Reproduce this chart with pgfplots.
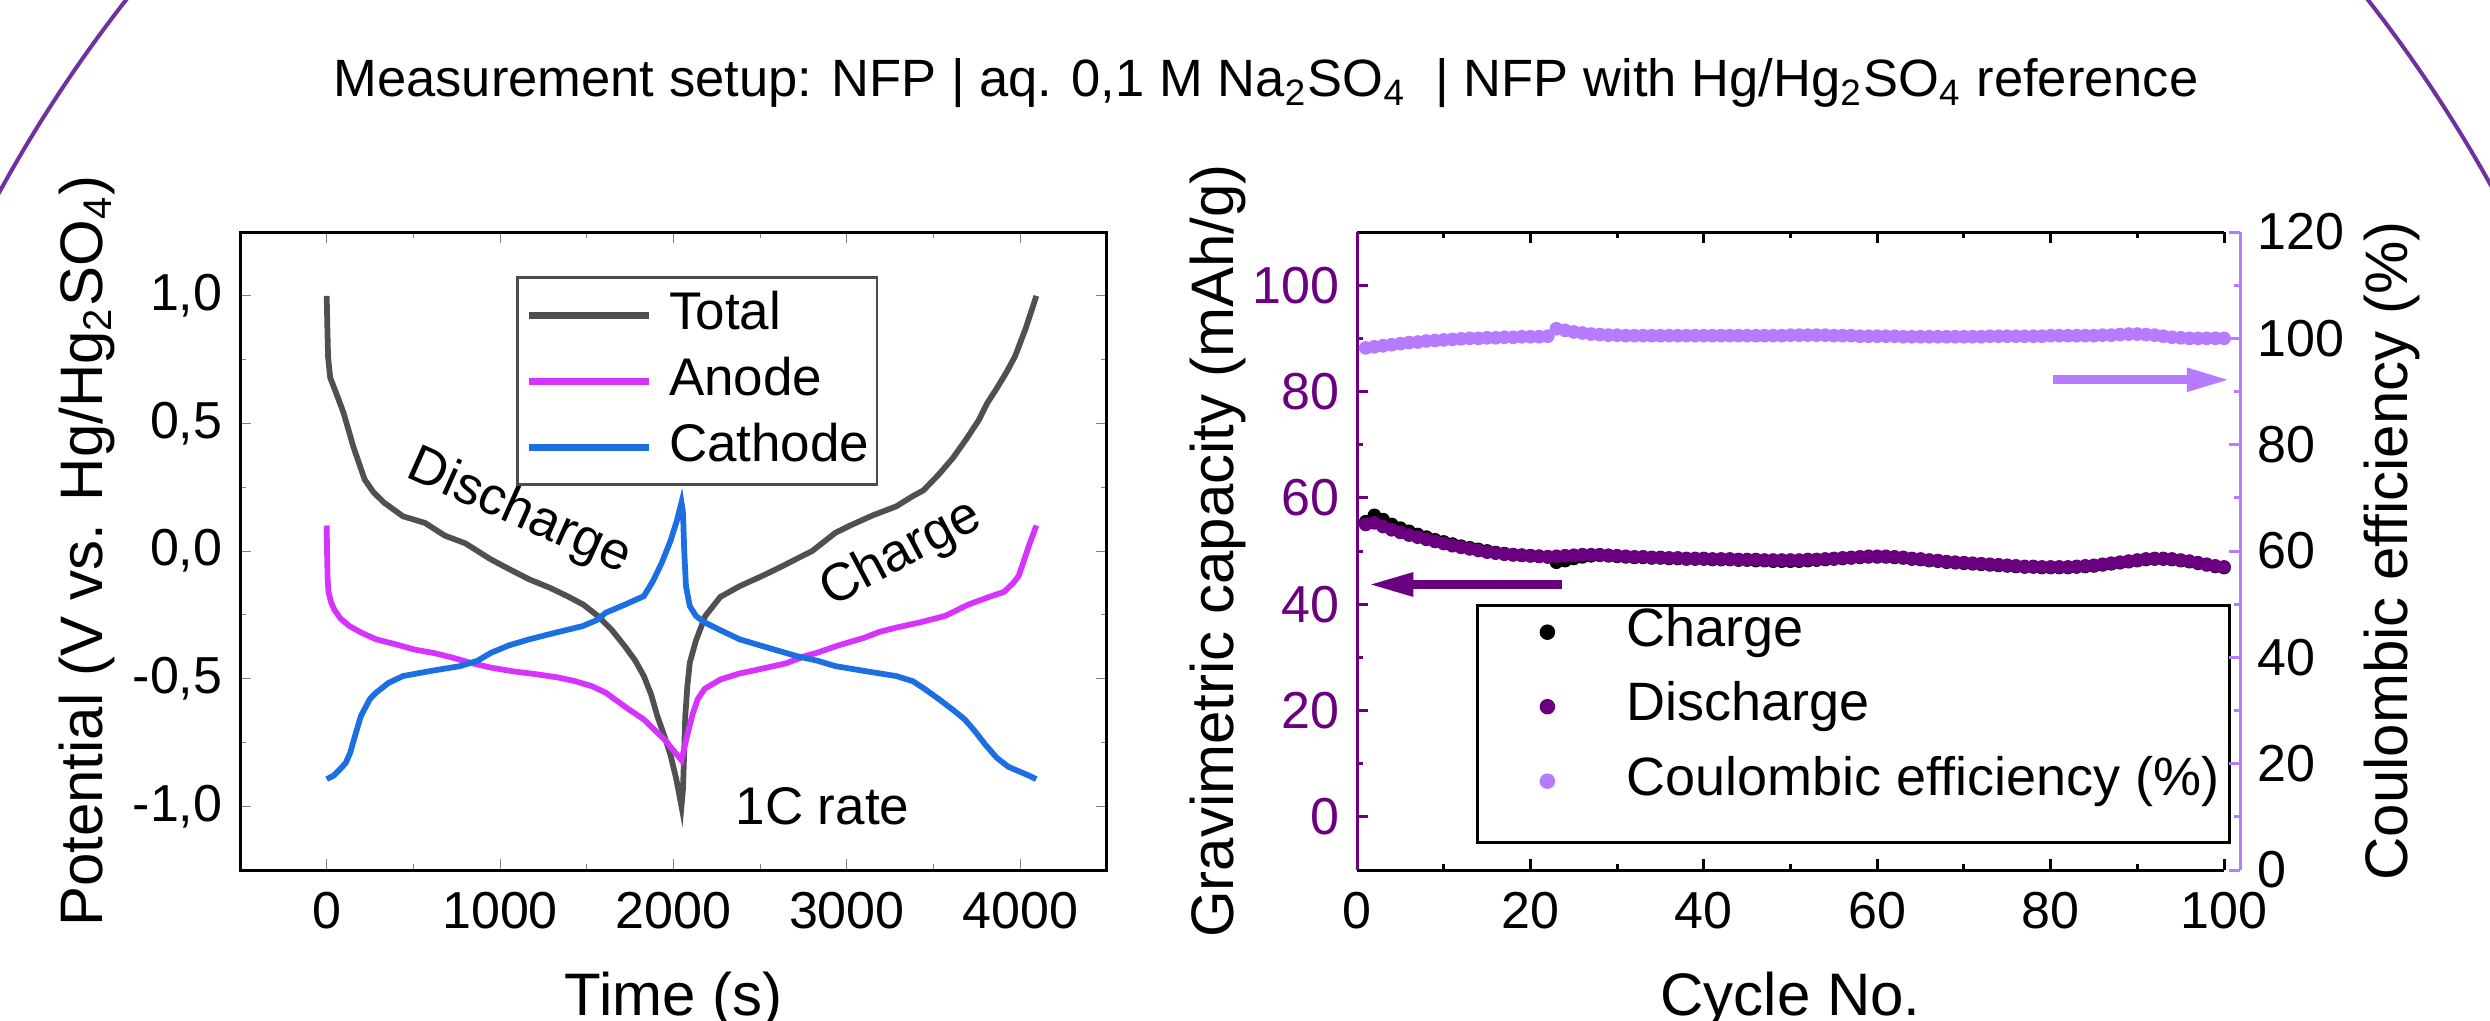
\documentclass[border=0pt]{standalone}
\usepackage{fontspec}
\setmainfont{Liberation Sans}
\usepackage{pgfplots}
\usepackage{pgfplotstable}
\pgfplotsset{compat=1.18}
\usetikzlibrary{arrows.meta}

\definecolor{totalgray}{HTML}{505050}
\definecolor{anodemag}{HTML}{D633FF}
\definecolor{cathblue}{HTML}{1B6FE0}
\definecolor{dpurple}{HTML}{6A007F}
\definecolor{lpurple}{HTML}{B77BFF}
\definecolor{arcpurple}{HTML}{7030A0}

% galvanostatic profile, time (s) vs potential (V)
\pgfplotstableread{
t v
0 1.00
3 0.90
8 0.76
20 0.68
54 0.62
98 0.54
153 0.41
219 0.28
270 0.23
330 0.19
440 0.136
567 0.11
682 0.06
800 0.03
947 -0.033
1050 -0.07
1168 -0.111
1290 -0.145
1388 -0.177
1480 -0.21
1565 -0.255
1645 -0.31
1719 -0.373
1780 -0.43
1829 -0.49
1870 -0.56
1907 -0.647
1950 -0.73
1983 -0.80
2015 -0.89
2035 -0.96
2046 -1.00
2055 -0.93
2061 -0.80
2068 -0.647
2080 -0.53
2094 -0.438
2130 -0.35
2183 -0.255
2270 -0.18
2381 -0.138
2520 -0.095
2638 -0.056
2712 -0.03
2800 0.00
2933 0.071
3019 0.10
3150 0.14
3285 0.175
3380 0.215
3442 0.238
3530 0.30
3611 0.364
3690 0.44
3759 0.511
3810 0.58
3864 0.637
3920 0.70
3970 0.763
4030 0.87
4093 1.00
}\totaldata

\pgfplotstableread{
t v
0 0.10
2 0.00
5 -0.10
10 -0.16
25 -0.20
43 -0.229
80 -0.265
131 -0.294
200 -0.32
285 -0.346
400 -0.366
506 -0.386
620 -0.40
727 -0.418
840 -0.44
947 -0.457
1080 -0.472
1212 -0.483
1330 -0.495
1433 -0.51
1530 -0.53
1609 -0.555
1680 -0.59
1741 -0.62
1829 -0.66
1950 -0.74
2046 -0.82
2060 -0.78
2080 -0.72
2110 -0.64
2140 -0.58
2180 -0.54
2271 -0.503
2380 -0.48
2491 -0.464
2650 -0.44
2765 -0.41
2822 -0.40
2950 -0.37
3100 -0.34
3187 -0.317
3285 -0.30
3420 -0.28
3568 -0.254
3700 -0.21
3820 -0.18
3907 -0.16
3960 -0.125
3991 -0.097
4030 -0.02
4054 0.029
4093 0.10
}\anodedata

\pgfplotstableread{
t v
0 -0.894
40 -0.88
81 -0.852
110 -0.83
136 -0.79
165 -0.72
197 -0.647
250 -0.579
285 -0.555
356 -0.517
440 -0.49
600 -0.47
770 -0.451
870 -0.43
947 -0.399
1050 -0.37
1168 -0.346
1320 -0.32
1477 -0.294
1560 -0.27
1609 -0.242
1720 -0.21
1829 -0.177
1880 -0.12
1930 -0.05
1983 0.04
2020 0.12
2046 0.19
2055 0.15
2062 0.00
2072 -0.138
2094 -0.216
2130 -0.255
2183 -0.281
2270 -0.31
2381 -0.346
2550 -0.38
2712 -0.412
2830 -0.43
2933 -0.451
3100 -0.47
3285 -0.49
3380 -0.51
3441 -0.537
3530 -0.58
3611 -0.622
3680 -0.66
3737 -0.705
3800 -0.76
3864 -0.81
3930 -0.845
3991 -0.863
4050 -0.88
4092 -0.894
}\cathodedata

% cycling: capacity (mAh/g) and coulombic efficiency (%)
\pgfplotstableread{
cyc D C E
1 55.0 55.5 98.2
2 55.3 56.7 98.4
3 54.6 55.9 98.6
4 54.0 55.0 98.8
5 53.5 54.3 99.0
6 53.0 53.7 99.2
7 52.6 53.1 99.3
8 52.2 52.6 99.5
9 51.8 52.1 99.6
10 51.4 51.7 99.7
11 51.0 51.3 99.8
12 50.7 50.9 99.9
13 50.4 50.6 100.0
14 50.1 50.3 100.0
15 49.8 50.0 100.1
16 49.6 49.7 100.1
17 49.4 49.5 100.2
18 49.3 49.3 100.2
19 49.2 49.2 100.3
20 49.1 49.1 100.3
21 49.0 49.0 100.3
22 48.9 48.9 100.4
23 49.0 47.9 101.8
24 49.1 48.2 101.5
25 49.2 48.6 101.2
26 49.3 48.9 101.0
27 49.3 49.1 100.8
28 49.3 49.2 100.7
29 49.2 49.1 100.6
30 49.1 49.0 100.6
31 49.0 48.9 100.5
32 48.9 48.8 100.5
33 48.9 48.8 100.5
34 48.8 48.7 100.5
35 48.8 48.7 100.5
36 48.7 48.6 100.5
37 48.7 48.6 100.5
38 48.6 48.5 100.5
39 48.6 48.5 100.5
40 48.6 48.5 100.5
41 48.5 48.4 100.5
42 48.5 48.4 100.5
43 48.5 48.4 100.5
44 48.4 48.3 100.5
45 48.4 48.3 100.5
46 48.4 48.2 100.5
47 48.3 48.2 100.5
48 48.3 48.1 100.5
49 48.3 48.1 100.5
50 48.3 48.1 100.6
51 48.3 48.1 100.6
52 48.4 48.2 100.6
53 48.4 48.3 100.6
54 48.5 48.4 100.6
55 48.6 48.5 100.5
56 48.7 48.6 100.5
57 48.8 48.7 100.5
58 48.9 48.8 100.4
59 49.0 48.9 100.4
60 49.0 48.9 100.4
61 49.0 48.9 100.4
62 48.9 48.8 100.4
63 48.8 48.7 100.3
64 48.6 48.5 100.3
65 48.5 48.4 100.3
66 48.3 48.2 100.3
67 48.2 48.1 100.3
68 48.0 47.9 100.3
69 47.9 47.8 100.3
70 47.8 47.7 100.3
71 47.7 47.6 100.3
72 47.6 47.5 100.3
73 47.5 47.4 100.4
74 47.4 47.3 100.4
75 47.3 47.2 100.4
76 47.2 47.1 100.4
77 47.1 47.0 100.4
78 47.1 47.0 100.4
79 47.0 46.9 100.4
80 47.0 46.9 100.5
81 47.0 46.9 100.5
82 47.0 46.9 100.5
83 47.1 47.0 100.5
84 47.2 47.1 100.5
85 47.3 47.2 100.5
86 47.5 47.4 100.6
87 47.7 47.6 100.6
88 47.9 47.8 100.7
89 48.1 48.0 100.8
90 48.3 48.2 100.8
91 48.5 48.4 100.7
92 48.6 48.5 100.6
93 48.6 48.5 100.4
94 48.5 48.4 100.2
95 48.3 48.2 100.1
96 48.1 48.0 100.0
97 47.8 47.7 100.0
98 47.5 47.4 100.0
99 47.2 47.1 100.0
100 47.0 46.9 100.0
}\capdata

\pgfplotsset{
  every axis/.append style={
    scale only axis, tick align=inside,
    /pgf/number format/assume math mode=true,
    tick label style={font=\fontsize{10.4}{12}\selectfont},
    label style={font=\fontsize{12}{14}\selectfont},
    major tick length=2.2pt, minor tick length=1.2pt,
    xticklabel style={yshift=-0.9pt},
  },
}

\begin{document}
\begin{tikzpicture}
\useasboundingbox (0,0) rectangle (498pt,204pt);
\begin{scope}
  \clip (0,0) rectangle (498pt,204pt);
  \draw[arcpurple, line width=0.8pt] (249.4pt,29pt) circle (284.4pt);
\end{scope}
\node[anchor=base, font=\fontsize{10.5}{13}\selectfont] at (253.2pt,184.6pt)
  {Measurement setup: NFP | aq. 0,1 M Na\textsubscript{2}SO\textsubscript{4}\ \ | NFP with Hg/Hg\textsubscript{2}SO\textsubscript{4} reference};

% left: potential profile
\begin{axis}[
  at={(48pt,30pt)}, anchor=south west, width=173.4pt, height=127.6pt,
  clip=false,
  xmin=-500, xmax=4500, ymin=-1.25, ymax=1.25,
  xtick={0,1000,2000,3000,4000}, minor x tick num=1,
  ytick={-1,-0.5,0,0.5,1}, minor y tick num=1,
  xticklabel style={/pgf/number format/1000 sep={}},
  yticklabel style={/pgf/number format/.cd, fixed, fixed zerofill, precision=1, use comma},
  axis line style={line width=0.6pt},
  xlabel={Time (s)},
  ylabel={Potential (V vs. Hg/Hg\textsubscript{2}SO\textsubscript{4})},
  xlabel style={at={(axis description cs:0.5,-0.2038)}, anchor=center},
  ylabel style={at={(axis description cs:-0.1765,0.5)}, anchor=center},
  legend style={at={(0.3187,0.9304)}, anchor=north west, draw=black!70, line width=0.5pt,
    fill=white, inner xsep=1.5pt, inner ysep=2.5pt, row sep=3.2pt, column sep=3.4pt,
    font=\fontsize{10.6}{12}\selectfont,
    nodes={inner sep=0pt, text height=7.8pt, text depth=2.2pt}},
  legend cell align=left,
  legend image code/.code={\draw[#1, line width=1.4pt] (0pt,0pt) -- (24pt,0pt);},
]
\addplot[totalgray, line width=1.15pt] table[x=t, y=v] {\totaldata};
\addlegendentry{Total}
\addplot[anodemag, line width=1.15pt] table[x=t, y=v] {\anodedata};
\addlegendentry{Anode}
\addplot[cathblue, line width=1.15pt] table[x=t, y=v] {\cathodedata};
\addlegendentry{Cathode}
\node[rotate=-24, font=\fontsize{10.6}{12}\selectfont] at (axis cs:1110,0.15) {Discharge};
\node[rotate=28, font=\fontsize{10.6}{12}\selectfont] at (axis cs:3314,-0.014) {Charge};
\node[font=\fontsize{10.6}{12}\selectfont] at (axis cs:2859,-1.0) {1C rate};
\end{axis}

% right: capacity
\begin{axis}[
  at={(271.4pt,30pt)}, anchor=south west, width=173.4pt, height=127.6pt,
  clip=false,
  xmin=0, xmax=100, ymin=-10, ymax=110,
  xtick={0,20,...,100}, minor x tick num=1,
  ytick={0,20,...,100}, minor y tick num=1,
  xtick pos=both, ytick pos=left,
  axis line style={draw=none},
  x tick style={black, line width=0.6pt},
  y tick style={dpurple, line width=0.6pt},
  yticklabel style={text=dpurple},
  xlabel={Cycle No.},
  ylabel={Gravimetric capacity (mAh/g)},
  xlabel style={at={(axis description cs:0.5,-0.2038)}, anchor=center},
  ylabel style={at={(axis description cs:-0.160,0.5)}, anchor=center},
  legend style={at={(0.1389,0.4143)}, anchor=north west, draw=none, fill=none,
    inner sep=0pt, row sep=4.7pt, column sep=0pt,
    font=\fontsize{10.8}{12}\selectfont,
    nodes={inner sep=0pt, text height=7.9pt, text depth=2.3pt}},
  legend cell align=left,
  legend image code/.code={\path[draw=none, fill=none] (0pt,0pt) -- (29.6pt,0pt);
    \draw[#1, mark size=1.35pt] plot coordinates {(13.8pt,0pt)};},
]
\addplot[only marks, mark=*, mark size=1.17pt, black] table[x=cyc, y=C] {\capdata};
\addlegendentry{Charge}
\addplot[only marks, mark=*, mark size=1.17pt, dpurple] table[x=cyc, y=D] {\capdata};
\addlegendentry{Discharge}
\addlegendimage{only marks, mark=*, lpurple}
\addlegendentry{Coulombic efficiency (\%)}
\draw[black, line width=0.6pt] (rel axis cs:0,0) -- (rel axis cs:1,0);
\draw[black, line width=0.6pt] (rel axis cs:0,1) -- (rel axis cs:1,1);
\draw[dpurple, line width=0.6pt] (rel axis cs:0,0) -- (rel axis cs:0,1);
\draw[black, line width=0.6pt] (axis description cs:0.1389,0.4143) rectangle (axis description cs:1.0063,0.0428);
\draw[dpurple, line width=1.7pt, -{Triangle[length=9pt, width=4.4pt]}] (axis cs:23.6,43.7) -- (axis cs:1.3,43.7);
\end{axis}

% right: coulombic efficiency on the offset right axis
\begin{axis}[
  at={(271.4pt,30pt)}, anchor=south west, width=176.6pt, height=127.6pt,
  xmin=0, xmax=101.845, ymin=0, ymax=120,
  axis x line=none, axis y line*=right,
  ytick={0,20,...,120}, minor y tick num=1, ytick pos=right,
  y axis line style={lpurple, line width=0.6pt},
  y tick style={lpurple, line width=0.6pt},
  ylabel={Coulombic efficiency (\%)},
  ylabel style={at={(axis description cs:1.172,0.5)}, anchor=center, rotate=0},
]
\addplot[only marks, mark=*, mark size=1.17pt, lpurple] table[x=cyc, y=E] {\capdata};
\draw[lpurple, line width=1.8pt, -{Triangle[length=8.8pt, width=4.3pt]}] (axis cs:80.3,92.2) -- (axis cs:100.8,92.2);
\end{axis}
\end{tikzpicture}
\end{document}
